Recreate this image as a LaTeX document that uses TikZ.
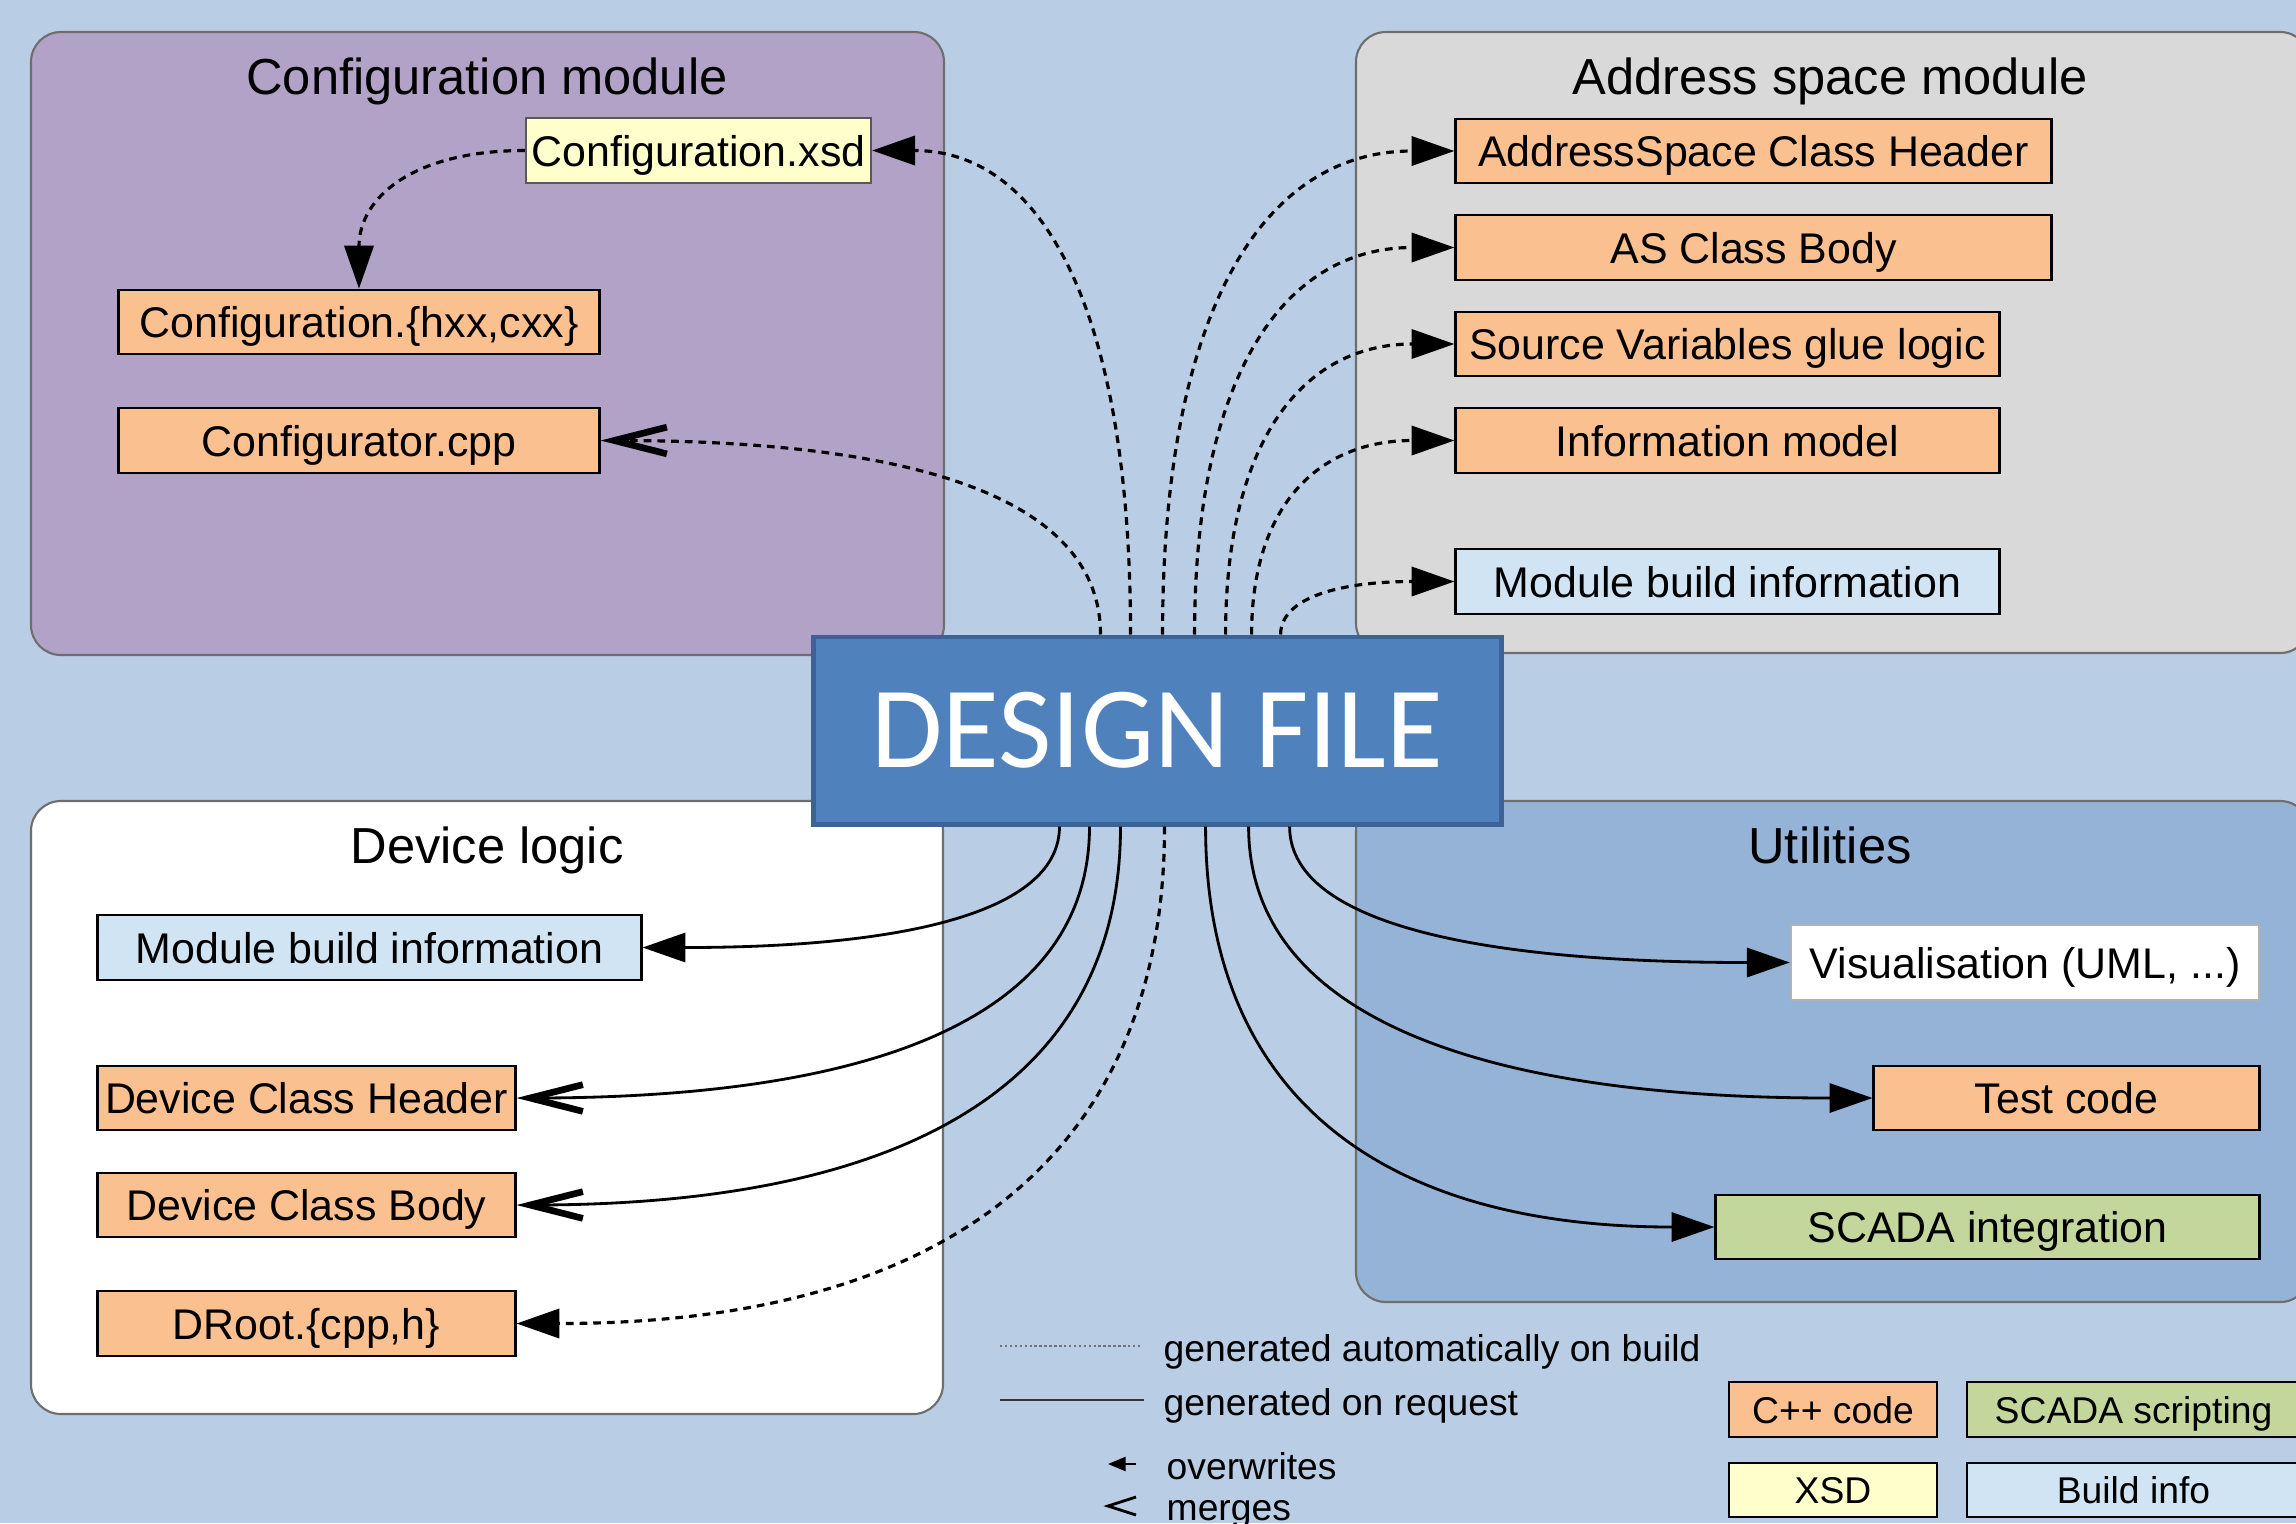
\documentclass[tikz,border=0pt]{standalone}
\usepackage{fontspec}
\setmainfont{Liberation Sans}
\newfontfamily\bannerfont{Carlito}
\usetikzlibrary{arrows.meta}

\definecolor{bgblue}{HTML}{B9CDE5}
\definecolor{cfgpurple}{HTML}{B2A2C7}
\definecolor{asgray}{HTML}{D9D9D9}
\definecolor{utilblue}{HTML}{95B3D7}
\definecolor{cppfill}{HTML}{FAC090}
\definecolor{xsdfill}{HTML}{FFFFCC}
\definecolor{buildfill}{HTML}{D0E4F4}
\definecolor{scadafill}{HTML}{C3D69B}
\definecolor{designfill}{HTML}{4F81BD}
\definecolor{designedge}{HTML}{3B6396}
\definecolor{moduleedge}{HTML}{6E6E6E}

\begin{document}
\begin{tikzpicture}[x=0.01cm,y=-0.01cm,
  module/.style={draw=moduleedge, line width=0.6pt, rounded corners=8.5pt},
  moduletitle/.style={inner sep=0pt, text depth=0pt, font=\fontsize{14.4}{16}\selectfont},
  filebox/.style={draw=black, line width=0.8pt, inner sep=0pt, text depth=0pt,
    font=\fontsize{12.2}{14}\selectfont},
  cppbox/.style={filebox, fill=cppfill},
  buildbox/.style={filebox, fill=buildfill},
  scadabox/.style={filebox, fill=scadafill},
  xsdbox/.style={filebox, draw=black!65, line width=0.6pt, fill=xsdfill},
  visbox/.style={filebox, draw=black!30, line width=0.6pt, fill=white},
  keybox/.style={draw=black, line width=0.6pt, inner sep=0pt, text depth=0pt,
    minimum height=0.55cm, font=\fontsize{10.6}{12}\selectfont},
  keytext/.style={inner sep=0pt, anchor=west, text depth=0pt, font=\fontsize{10.6}{12}\selectfont},
  autogen/.style={line width=0.9pt, dash pattern=on 2.2pt off 1.7pt},
  onrequest/.style={line width=0.8pt},
  overwrite/.style={-{Triangle[length=12.2pt,width=8.3pt]}},
  merge/.style={-{Straight Barb[length=15pt,width=7.6pt,line width=1.9pt]}}
]
\useasboundingbox (0,0) rectangle (2296,1523);
\fill[bgblue] (0,0) rectangle (2296,1523);
\clip (0,0) rectangle (2296,1523);

% module panels
\draw[module, fill=cfgpurple] (31,32) rectangle (944,655);
\draw[module, fill=asgray] (1356,32) rectangle (2310,653);
\draw[module, fill=white] (31,801) rectangle (943,1414);
\draw[module, fill=utilblue] (1356,801) rectangle (2310,1302);

\node[moduletitle] (cfgtitle) at (487,76) {Configuration module};
\node[moduletitle] (astitle) at (1830,76) {Address space module};
\node[moduletitle] (dltitle) at (487,845) {Device logic};
\node[moduletitle] (utiltitle) at (1830,845) {Utilities};

% configuration module
\node[xsdbox, minimum width=3.45cm, minimum height=0.65cm] (xsd) at (698.5,150.5) {Configuration.xsd};
\node[cppbox, minimum width=4.8cm, minimum height=0.64cm] (hxx) at (359,322) {Configuration.\{hxx,cxx\}};
\node[cppbox, minimum width=4.8cm, minimum height=0.65cm] (cpp) at (359,440.5) {Configurator.cpp};

% address space module
\node[cppbox, minimum width=5.95cm, minimum height=0.64cm] (ash) at (1753.5,151) {AddressSpace Class Header};
\node[cppbox, minimum width=5.95cm, minimum height=0.65cm] (asb) at (1753.5,247.5) {AS Class Body};
\node[cppbox, minimum width=5.43cm, minimum height=0.64cm] (svg) at (1727.5,344) {Source Variables glue logic};
\node[cppbox, minimum width=5.43cm, minimum height=0.65cm] (im) at (1727.5,440.5) {Information model};
\node[buildbox, minimum width=5.43cm, minimum height=0.65cm] (asmbi) at (1727.5,581.5) {Module build information};

% device logic
\node[buildbox, minimum width=5.43cm, minimum height=0.65cm] (dlmbi) at (369.5,947.5) {Module build information};
\node[cppbox, minimum width=4.17cm, minimum height=0.64cm] (dch) at (306.5,1098) {Device Class Header};
\node[cppbox, minimum width=4.17cm, minimum height=0.64cm] (dcb) at (306.5,1205) {Device Class Body};
\node[cppbox, minimum width=4.17cm, minimum height=0.65cm] (droot) at (306.5,1323.5) {DRoot.\{cpp,h\}};

% utilities
\node[visbox, minimum width=4.68cm, minimum height=0.75cm] (vis) at (2025,962.5) {Visualisation (UML, ...)};
\node[cppbox, minimum width=3.85cm, minimum height=0.64cm] (test) at (2066.5,1098) {Test code};
\node[scadabox, minimum width=5.43cm, minimum height=0.64cm] (scada) at (1987.5,1227) {SCADA integration};

% central design file
\node[draw=designedge, line width=1.4pt, fill=designfill, inner sep=0pt,
  minimum width=6.87cm, minimum height=1.87cm, text=white,
  font=\bannerfont\fontsize{33}{36}\selectfont] (design) at (1157.5,730.5) {DESIGN FILE};

% connector start points on the design file
\coordinate (tcpp) at ([xshift=2.89cm]design.north west);
\coordinate (txsd) at ([xshift=3.19cm]design.north west);
\coordinate (tash) at ([xshift=3.51cm]design.north west);
\coordinate (tasb) at ([xshift=3.83cm]design.north west);
\coordinate (tsvg) at ([xshift=4.14cm]design.north west);
\coordinate (tim) at ([xshift=4.40cm]design.north west);
\coordinate (tmbi) at ([xshift=4.69cm]design.north west);
\coordinate (bmbi) at ([xshift=2.48cm]design.south west);
\coordinate (bdch) at ([xshift=2.78cm]design.south west);
\coordinate (bdcb) at ([xshift=3.09cm]design.south west);
\coordinate (bdroot) at ([xshift=3.53cm]design.south west);
\coordinate (bscada) at ([xshift=3.94cm]design.south west);
\coordinate (btest) at ([xshift=4.37cm]design.south west);
\coordinate (bvis) at ([xshift=4.78cm]design.south west);

% generated files, upper half
\draw[autogen, merge] (tcpp) .. controls +(0,-130) and +(331,0) .. (cpp.east);
\draw[autogen, overwrite] (txsd) .. controls +(0,-321) and +(172,0) .. (xsd.east);
\draw[autogen, overwrite] (tash) .. controls +(0,-321) and +(-193,0) .. (ash.west);
\draw[autogen, overwrite] (tasb) .. controls +(0,-257) and +(-172,0) .. (asb.west);
\draw[autogen, overwrite] (tsvg) .. controls +(0,-193) and +(-152,0) .. (svg.west);
\draw[autogen, overwrite] (tim) .. controls +(0,-130) and +(-135,0) .. (im.west);
\draw[autogen, overwrite] (tmbi) .. controls +(0,-37) and +(-114,0) .. (asmbi.west);
\draw[autogen, overwrite] (xsd.west) .. controls +(-110,0) and +(0,-92) .. (hxx.north);

% generated files, lower half
\draw[onrequest, overwrite] (bmbi) .. controls +(0,81.5) and +(276,0) .. (dlmbi.east);
\draw[onrequest, merge] (bdch) .. controls +(0,181) and +(379,0) .. (dch.east);
\draw[onrequest, merge] (bdcb) .. controls +(0,251.5) and +(399,0) .. (dcb.east);
\draw[autogen, overwrite] (bdroot) .. controls +(0,330) and +(428,0) .. (droot.east);
\draw[onrequest, overwrite] (bscada) .. controls +(0,266) and +(-337,0) .. (scada.west);
\draw[onrequest, overwrite] (btest) .. controls +(0,181) and +(-413,0) .. (test.west);
\draw[onrequest, overwrite] (bvis) .. controls +(0,91.4) and +(-331,0) .. (vis.west);

% legend: line styles and arrow heads
\draw[black!55, line width=0.35pt, dash pattern=on 0.7pt off 0.7pt] (1000,1346) -- (1141,1346);
\draw[black!80, line width=0.35pt] (1000,1400) -- (1144,1400);
\node[keytext] (lgauto) at (1163,1348) {generated automatically on build};
\node[keytext] (lgreq) at (1163,1402) {generated on request};
\draw[line width=0.6pt, -{Triangle[length=5pt,width=4pt]}] (1136,1464) -- (1108,1464);
\node[keytext] (lgover) at (1166,1466) {overwrites};
\draw[line width=0.8pt] (1136,1497) -- (1108,1506) -- (1136,1515);
\node[keytext] (lgmerge) at (1166,1510) {merges};

% legend: file kinds
\node[keybox, fill=cppfill, minimum width=2.08cm] (kcpp) at (1833,1409.5) {C++ code};
\node[keybox, fill=scadafill, minimum width=3.33cm] (kscada) at (2133.5,1409.5) {SCADA scripting};
\node[keybox, fill=xsdfill, minimum width=2.08cm, minimum height=0.54cm] (kxsd) at (1833,1490) {XSD};
\node[keybox, fill=buildfill, minimum width=3.33cm, minimum height=0.54cm] (kbuild) at (2133.5,1490) {Build info};
\end{tikzpicture}
\end{document}
